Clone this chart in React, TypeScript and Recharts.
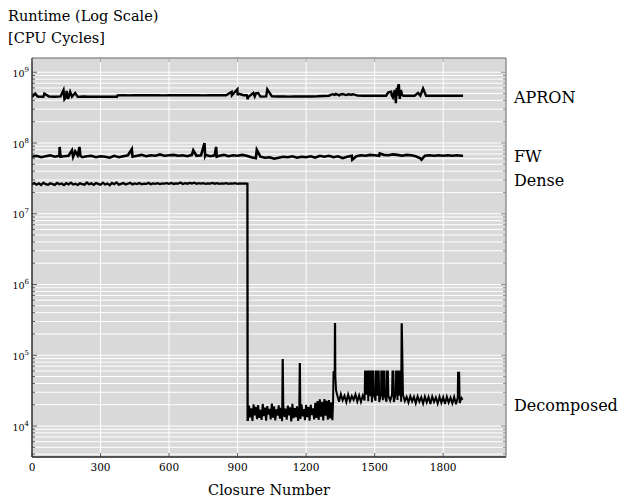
import { LineChart, Line, XAxis, YAxis, CartesianGrid } from "recharts";

const FONT = "'DejaVu Serif', serif";

// axes
const xTicks = [0, 300, 600, 900, 1200, 1500, 1800];
const xDomain = [0, 2075];
const yDomain = [3648, 1.59e9];
const mantissas = [1, 2, 3, 4, 5, 6, 7, 8, 9];
const yGrid = [1e3, 1e4, 1e5, 1e6, 1e7, 1e8, 1e9]
  .flatMap((d) => mantissas.map((m) => m * d))
  .filter((v) => v >= yDomain[0] && v <= yDomain[1]);

// series end labels
const seriesNames = ["APRON", "FW", "Dense", "Decomposed"];
const labelLevels = [4.36e8, 6.41e7, 2.95e7, 1.93e4];

// APRON, millions of cycles, every 25 closures from 0
const apronVals = [
  450, 454, 449, 453, 451, 455, 450, 452, 449, 454, 451, 453, 450, 452, 451,
  472, 474, 471, 473, 475, 472, 474, 473, 471, 474, 472, 475, 473, 472, 474, 471, 473, 475, 472, 474, 473, 472, 474,
  454, 456, 453, 455, 457, 454, 456, 453, 455, 454, 456, 455, 457,
  462, 466, 478, 485, 476, 482, 468, 466, 467, 465, 468, 466, 470, 468, 466, 467, 465, 467, 466, 468, 466, 467, 465, 467, 466,
];
const apronSpikes: [number, number][] = [
  [14, 500], [54, 498], [138, 560], [142, 415], [151, 545], [158, 420], [167, 530], [189, 510],
  [372, 451], [874, 530], [899, 575], [903, 500], [940, 473], [944, 415], [947, 455],
  [969, 510], [980, 505], [990, 510], [1030, 575], [1315, 490], [1330, 495], [1345, 470],
  [1360, 492], [1385, 488], [1405, 490], [1560, 520], [1572, 530], [1580, 440], [1588, 560],
  [1593, 365], [1597, 600], [1603, 640], [1606, 676], [1610, 420], [1615, 560], [1620, 480],
  [1690, 510], [1712, 590], [1887, 466],
];

// FW, millions of cycles, every 20 closures from 0
const fwVals = [
  64, 66, 63, 65, 67, 64, 66, 65,
  66, 64, 67, 63, 65, 66, 63, 65,
  64, 62, 66, 63, 65, 67, 64, 66,
  68, 65, 67, 66, 69, 66, 67, 68,
  66, 67, 65, 68, 66, 67, 68, 65,
  67, 66, 68, 65, 67, 66, 68, 66,
  63, 61, 64, 62, 63, 60, 62, 64,
  63, 65, 62, 64, 63, 65, 62, 66,
  64, 66, 63, 65, 61, 64, 66, 65,
  67, 66, 68, 67, 66, 68, 67, 69,
  68, 66, 68, 67, 65, 61, 66, 67,
  66, 67, 66, 67, 66, 67, 66,
];
const fwSpikes: [number, number][] = [
  [121, 88], [125, 64], [175, 79], [189, 76], [208, 88], [212, 66], [437, 82], [706, 79],
  [755, 100], [758, 66], [806, 88], [809, 64], [984, 80], [1402, 58], [1522, 71], [1705, 58],
  [1887, 66],
];

// Dense, millions of cycles, every 10 closures from 0
const denseVals = [
  26.0, 27.2, 25.8, 26.9, 25.5, 27.4, 26.2, 25.7, 27.0, 26.3,
  25.6, 27.3, 26.1, 26.8, 25.4, 27.1, 26.0, 27.5, 25.9, 26.6,
  25.5, 27.0, 26.3, 25.8, 27.6, 26.1, 26.9, 25.6, 27.2, 26.4,
  25.7, 27.5, 25.9, 26.8, 25.3, 27.3, 26.2, 27.7, 25.8, 26.5,
  27.1, 25.9, 26.6, 27.4, 26.0, 26.8, 26.3, 27.2, 26.1, 26.7,
  26.4, 27.3, 26.2, 26.9, 26.5, 27.1, 26.3, 26.8, 26.6, 27.0,
  26.5, 27.2, 26.4, 26.9, 26.7, 27.6, 26.3, 27.0, 26.6, 27.3,
  26.8, 27.5, 26.5, 27.1, 26.6, 27.0, 26.4, 26.9, 26.7, 27.2,
  26.6, 27.0, 26.5, 26.9, 26.7, 27.1, 26.4, 26.8, 26.6, 27.0,
  26.5, 26.9, 26.6, 26.8, 26.7,
];
const denseSpikes: [number, number][] = [[943, 26.6], [944, 0.0118]];

// Decomposed, thousands of cycles: every 5 closures from 945, then every 8 from 1336
const decompEarly = [
  12.0, 19.5, 13.2, 17.8, 11.8, 20.2, 14.1, 18.6, 12.5, 19.8,
  13.0, 16.9, 12.2, 20.5, 13.8, 18.2, 11.9, 19.1, 14.5, 17.5,
  12.4, 20.8, 13.1, 18.9, 12.0, 17.2, 14.0, 19.6, 12.7, 18.0,
  11.7, 20.1, 13.5, 17.6, 12.3, 19.4, 14.2, 18.3, 11.6, 20.6,
  12.9, 17.9, 13.4, 19.0, 11.8, 18.7, 12.6, 20.3, 13.7, 17.4,
  12.1, 19.9, 13.3, 18.5, 11.9, 20.0, 14.3, 17.7, 12.4, 21.2,
  13.0, 22.5, 12.2, 23.8, 13.6, 21.9, 12.0, 24.0, 14.0, 22.8,
  12.3, 23.2, 12.8, 21.7, 12.1,
];
const decompLate = [
  27.5, 22.0, 28.2, 23.1, 26.8, 21.8, 27.9, 22.6, 26.5, 23.4,
  28.0, 22.2, 27.1, 21.9, 26.9, 23.0, 27.6, 22.4, 26.3, 21.7,
  27.8, 22.8, 26.7, 21.9, 28.1, 23.2, 27.0, 22.1, 26.6, 22.9,
  27.4, 21.8, 28.4, 23.3, 26.9, 22.0, 27.7, 22.5, 25.9, 21.5,
  26.4, 22.3, 25.8, 21.0, 26.2, 22.1, 25.5, 20.8, 26.0, 21.6,
  25.7, 20.5, 26.1, 21.9, 25.3, 20.7, 25.9, 21.2, 25.6, 20.4,
  26.0, 21.4, 25.2, 20.9, 25.8, 20.3, 25.5, 21.1, 24.9,
];
const decompSpikes: [number, number][] = [
  [1097, 86], [1098, 86], [1172, 75], [1173, 75],
  [1318, 22], [1320, 58], [1323, 59], [1325, 60], [1326, 277], [1327, 277], [1328, 50], [1331, 32],
  [1458, 59], [1462, 59], [1466, 59], [1470, 59], [1473, 59], [1478, 59], [1481, 59], [1486, 59],
  [1490, 59], [1494, 59], [1505, 59], [1510, 59], [1513, 59], [1518, 59], [1529, 59], [1534, 59],
  [1538, 59], [1542, 59], [1553, 59], [1558, 59], [1578, 59], [1582, 59], [1594, 59], [1598, 59],
  [1601, 59], [1606, 59], [1609, 59], [1613, 59], [1618, 275], [1619, 275],
  [1865, 56.5], [1870, 56.5], [1885, 23.5],
];

type Pt = { x: number; y: number };

function build(grids: [number, number, number[]][], extra: [number, number][], unit: number): Pt[] {
  const pts: Pt[] = [];
  grids.forEach(([start, step, vals]) => vals.forEach((v, i) => pts.push({ x: start + i * step, y: v * unit })));
  extra.forEach(([x, v]) => pts.push({ x, y: v * unit }));
  return pts.sort((a, b) => a.x - b.x);
}

const apronData = build([[0, 25, apronVals]], apronSpikes, 1e6);
const fwData = build([[0, 20, fwVals]], fwSpikes, 1e6);
const denseData = build([[0, 10, denseVals]], denseSpikes, 1e6);
const decompData = build([[945, 5, decompEarly], [1336, 8, decompLate]], decompSpikes, 1e3);

const isMajor = (v: number) => Math.abs(Math.log10(v) - Math.round(Math.log10(v))) < 1e-9;

function LeftTick(props: any) {
  const { x, y, payload } = props;
  const v = payload.value;
  const major = isMajor(v);
  return (
    <g>
      <line x1={x} x2={x + (major ? 5 : 3)} y1={y} y2={y} stroke="#333" strokeWidth={0.8} />
      {major && (
        <text x={x - 3} y={y + 4.5} textAnchor="end" fontFamily={FONT} fontSize={9.5} fill="#000">
          10
          <tspan dy={-5} fontSize={7}>{Math.round(Math.log10(v))}</tspan>
        </text>
      )}
    </g>
  );
}

function RightTick(props: any) {
  const { x, y, payload } = props;
  const idx = labelLevels.indexOf(payload.value);
  if (idx >= 0) {
    return (
      <text x={x + 8} y={y + 5.5} fontFamily={FONT} fontSize={16} fill="#000">
        {seriesNames[idx]}
      </text>
    );
  }
  const major = isMajor(payload.value);
  return <line x1={x} x2={x - (major ? 5 : 3)} y1={y} y2={y} stroke="#777" strokeWidth={0.8} />;
}

function TopTick(props: any) {
  const { x, y } = props;
  return <line x1={x} x2={x} y1={y} y2={y + 4} stroke="#888" strokeWidth={0.8} />;
}

function BottomTick(props: any) {
  const { x, y, payload } = props;
  return (
    <g>
      <line x1={x} x2={x} y1={y} y2={y - 4} stroke="#333" strokeWidth={0.8} />
      <text x={x} y={y + 14} textAnchor="middle" fontFamily={FONT} fontSize={10.5} fill="#000">
        {payload.value}
      </text>
    </g>
  );
}

export default function App() {
  const lineProps = { type: "linear" as const, dataKey: "y", stroke: "#000", dot: false, isAnimationActive: false };
  return (
    <div style={{ position: "relative", width: 618, height: 501 }}>
      <style>{"body{margin:0}"}</style>
      <LineChart width={618} height={501} margin={{ top: 0, right: 0, bottom: 0, left: 0 }}>
        <CartesianGrid
          fill="#d9d9d9"
          fillOpacity={1}
          stroke="#fff"
          strokeWidth={1}
          horizontalValues={yGrid}
          verticalValues={xTicks.slice(1)}
        />
        <XAxis
          dataKey="x"
          type="number"
          domain={xDomain}
          allowDataOverflow
          ticks={xTicks}
          interval={0}
          height={44}
          tickSize={0}
          tickMargin={0}
          tickLine={false}
          tick={<BottomTick />}
          axisLine={{ stroke: "#222", strokeWidth: 1.4 }}
        />
        <XAxis
          xAxisId="t"
          orientation="top"
          dataKey="x"
          type="number"
          domain={xDomain}
          allowDataOverflow
          ticks={xTicks}
          interval={0}
          height={58}
          tickSize={0}
          tickMargin={0}
          tickLine={false}
          tick={<TopTick />}
          axisLine={{ stroke: "#666", strokeWidth: 1 }}
        />
        <YAxis
          type="number"
          scale="log"
          domain={yDomain}
          allowDataOverflow
          ticks={yGrid}
          interval={0}
          width={32}
          tickSize={0}
          tickMargin={0}
          tickLine={false}
          tick={<LeftTick />}
          axisLine={{ stroke: "#222", strokeWidth: 1.4 }}
        />
        <YAxis
          yAxisId="r"
          orientation="right"
          type="number"
          scale="log"
          domain={yDomain}
          allowDataOverflow
          ticks={[...yGrid, ...labelLevels]}
          interval={0}
          width={112}
          tickSize={0}
          tickMargin={0}
          tickLine={false}
          tick={<RightTick />}
          axisLine={{ stroke: "#666", strokeWidth: 1 }}
        />
        <Line {...lineProps} name="APRON" data={apronData} strokeWidth={2.4} />
        <Line {...lineProps} name="FW" data={fwData} strokeWidth={2.6} />
        <Line {...lineProps} name="Dense" data={denseData} strokeWidth={2.3} />
        <Line {...lineProps} name="Decomposed" data={decompData} strokeWidth={2} />
      </LineChart>
      <svg width={618} height={501} style={{ position: "absolute", left: 0, top: 0, pointerEvents: "none" }}>
        <text x={8} y={20.5} fontFamily={FONT} fontSize={14.5} fill="#000">Runtime (Log Scale)</text>
        <text x={8} y={43} fontFamily={FONT} fontSize={14.5} fill="#000">[CPU Cycles]</text>
        <text x={269} y={495} textAnchor="middle" fontFamily={FONT} fontSize={14.5} fill="#000">Closure Number</text>
      </svg>
    </div>
  );
}
